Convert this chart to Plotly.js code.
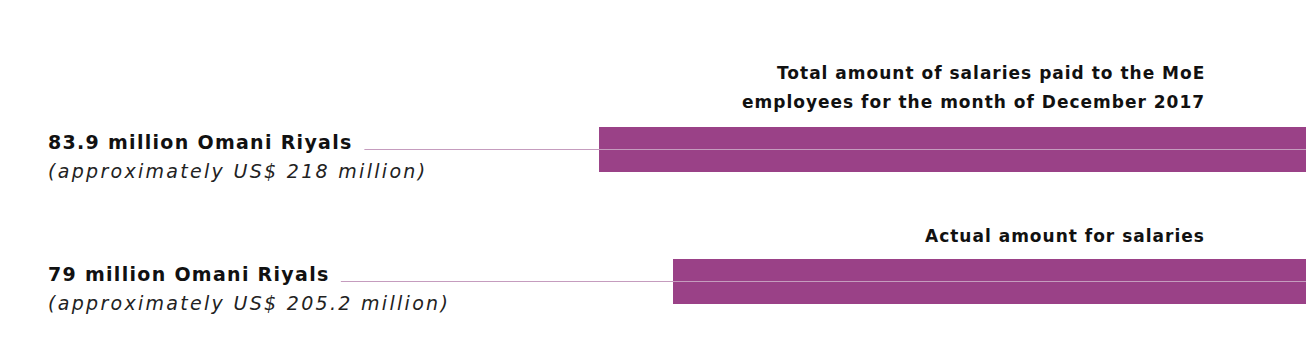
<!DOCTYPE html>
<html><head><meta charset="utf-8">
<script src="https://cdn.plot.ly/plotly-3.0.1.min.js"></script>
<style>body{margin:0;background:#fff}#c{width:1306px;height:360px}</style>
</head><body><div id="c"></div>
<script>
const categories = ["Total amount of salaries paid to the MoE<br>employees for the month of December 2017", "Actual amount for salaries"];
const valuesOMR = [83.9, 79];
const omrLabels = ["83.9 million Omani Riyals", "79 million Omani Riyals"];
const usdLabels = ["(approximately US$ 218 million)", "(approximately US$ 205.2 million)"];

const barColor = "#9a4187";
const idx = categories.map((c, i) => i);
const FONT = "DejaVu Sans";

const annotations = [];
const shapes = [];
const labelEnds = [0.279, 0.261];
const titleShifts = [[76.5, 47.5], [46]];
categories.forEach((c, i) => {
  c.split("<br>").forEach((line, j) => {
    annotations.push({xref: "paper", yref: "y", x: 0.9245, y: i, yshift: titleShifts[i][j],
      text: "<b>" + line + "</b>", showarrow: false, xanchor: "right", yanchor: "middle", align: "right",
      font: {family: FONT, size: 17, color: "#111"}, name: "title"});
  });
  annotations.push({xref: "paper", yref: "y", x: 0.0355, y: i, yshift: 8,
    text: "<b>" + omrLabels[i] + "</b>", showarrow: false, xanchor: "left", yanchor: "middle", align: "left",
    font: {family: FONT, size: 19, color: "#111"}, name: "omr"});
  annotations.push({xref: "paper", yref: "y", x: 0.0355, y: i, yshift: -21,
    text: "<i>" + usdLabels[i] + "</i>", showarrow: false, xanchor: "left", yanchor: "middle", align: "left",
    font: {family: FONT, size: 19, color: "#222"}, name: "usd"});
  shapes.push({type: "line", xref: "paper", yref: "y", x0: labelEnds[i], x1: 1, y0: i, y1: i,
    line: {color: "#c59cbe", width: 1.2}, layer: "above"});
});

Plotly.newPlot("c", [{
  type: "bar", orientation: "h", y: idx, x: valuesOMR,
  width: 0.34, marker: {color: barColor}, hoverinfo: "none"
}], {
  width: 1306, height: 360,
  margin: {l: 0, r: 0, t: 0, b: 0},
  paper_bgcolor: "#fff", plot_bgcolor: "#fff",
  showlegend: false,
  xaxis: {range: [123.57, 37.08], visible: false, fixedrange: true},
  yaxis: {range: [1.5947, -1.1326], visible: false, fixedrange: true},
  annotations: annotations, shapes: shapes
}, {displayModeBar: false, staticPlot: true}).then(gd => {
  const spacing = {title: "1px", omr: "1.3px", usd: "2.3px"};
  document.querySelectorAll(".annotation").forEach((g, k) => {
    const a = annotations[k];
    const t = g.querySelector("text.annotation-text");
    if (t && a) t.setAttribute("letter-spacing", spacing[a.name]);
  });
});
</script></body></html>
